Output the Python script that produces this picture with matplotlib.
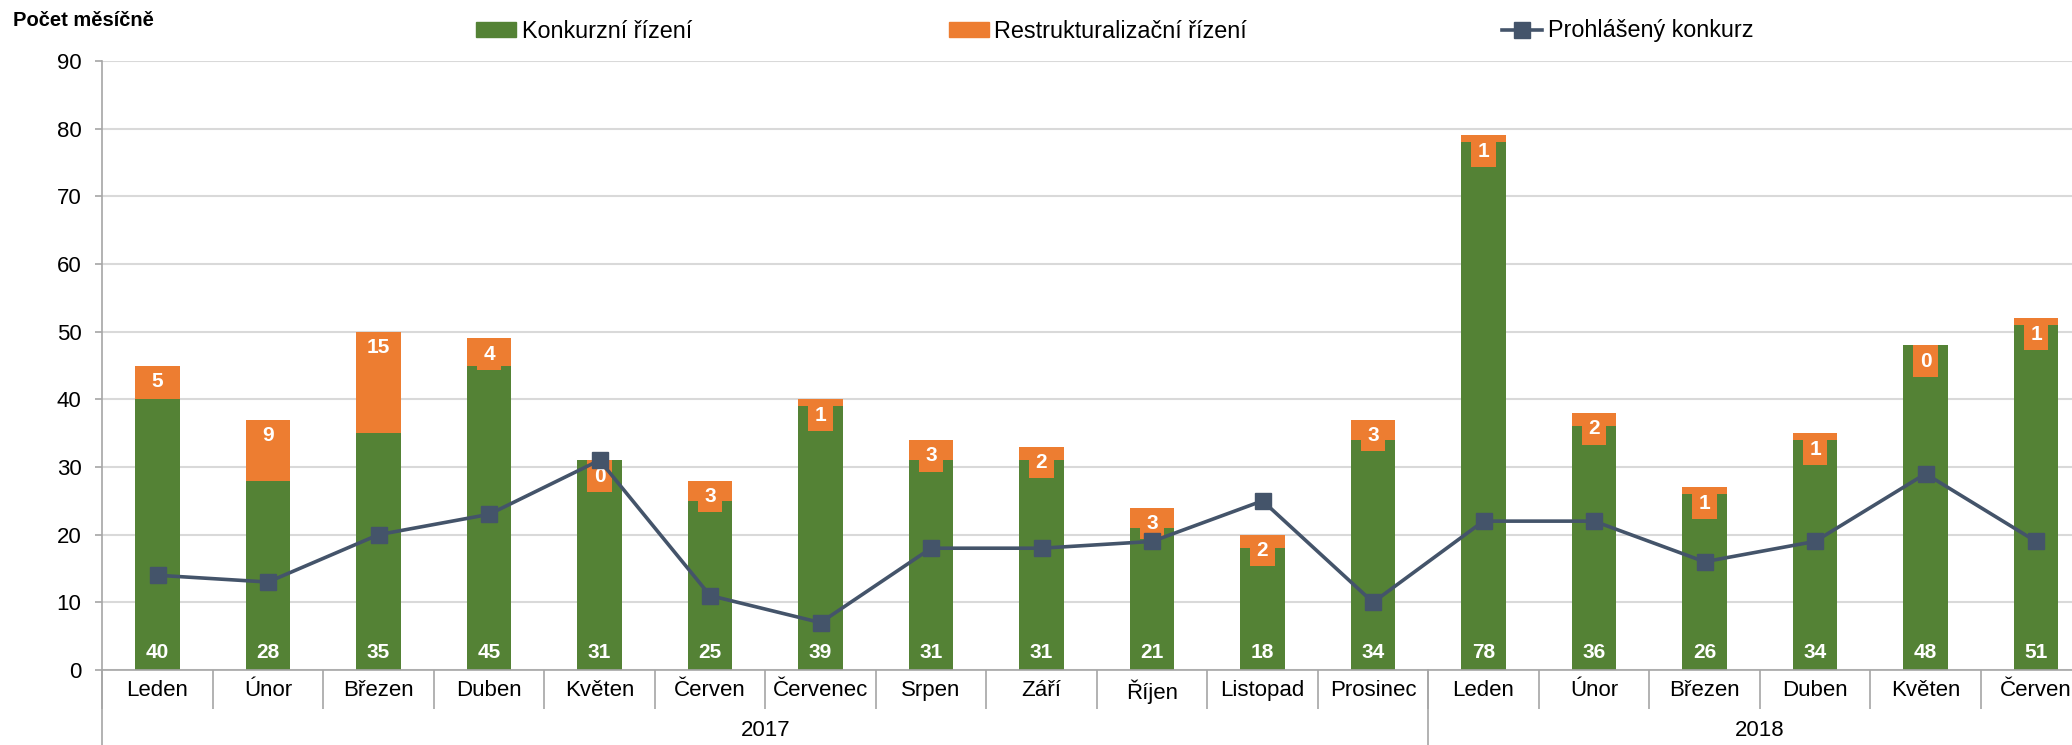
import matplotlib
matplotlib.use('Agg')
import matplotlib.pyplot as plt
from matplotlib.lines import Line2D
from matplotlib.patches import Patch
import matplotlib.transforms as mtransforms
import numpy as np

# data
months = ['Leden', 'Únor', 'Březen', 'Duben', 'Květen', 'Červen', 'Červenec', 'Srpen', 'Září',
          'Říjen', 'Listopad', 'Prosinec', 'Leden', 'Únor', 'Březen', 'Duben', 'Květen', 'Červen']
years = ['2017', '2018']
year_sizes = [12, 6]
konkurz = [40, 28, 35, 45, 31, 25, 39, 31, 31, 21, 18, 34, 78, 36, 26, 34, 48, 51]
restrukt = [5, 9, 15, 4, 0, 3, 1, 3, 2, 3, 2, 3, 1, 2, 1, 1, 0, 1]
prohlaseny = [14, 13, 20, 23, 31, 11, 7, 18, 18, 19, 25, 10, 22, 22, 16, 19, 29, 19]

GREEN = '#548235'
ORANGE = '#ED7D31'
NAVY = '#44546A'
GRID = '#D9D9D9'
AXIS = '#A6A6A6'

plt.rcParams['font.family'] = ['Liberation Sans', 'DejaVu Sans']

W, H = 2072, 745
fig = plt.figure(figsize=(W / 100, H / 100), dpi=100)
ax = fig.add_axes([102.3 / W, 75 / H, 1989 / W, 609 / H])

x = np.arange(len(months))
ax.bar(x, konkurz, width=0.4, color=GREEN, zorder=2)
ax.bar(x, restrukt, width=0.4, bottom=konkurz, color=ORANGE, zorder=2)
ax.plot(x, prohlaseny, color=NAVY, lw=2.6, marker='s', ms=11, zorder=4)

# labels of the green part, near the bottom
for xi, v in zip(x, konkurz):
    ax.annotate(str(v), (xi, 0), xytext=(0, 8.5), textcoords='offset points',
                ha='center', va='baseline', color='white', fontsize=15,
                fontweight='bold', zorder=5)

# labels of the orange part, boxed at the top of the bar
for xi, k, r in zip(x, konkurz, restrukt):
    ax.annotate(str(r), (xi, k + r), xytext=(0, -4.6), textcoords='offset points',
                ha='center', va='top', color='white', fontsize=15, fontweight='bold',
                bbox=dict(boxstyle='square,pad=0.3', fc=ORANGE, ec='none'), zorder=3)

ax.set_xlim(-0.5, len(months) - 0.5)
ax.set_ylim(0, 90)
ax.set_yticks(range(0, 91, 10))
ax.yaxis.grid(True, color=GRID, lw=1.5, zorder=0)
ax.set_axisbelow(True)

ax.set_xticks(x)
ax.set_xticklabels(months)
ax.set_xticks(np.arange(-0.5, len(months), 1), minor=True)
ax.tick_params(axis='x', which='major', length=0, pad=7, labelsize=16)
ax.tick_params(axis='x', which='minor', length=28, width=1.2, color=AXIS, direction='out')
ax.tick_params(axis='y', length=5, width=1.2, color=AXIS, pad=10, labelsize=16)

for s in ['top', 'right']:
    ax.spines[s].set_visible(False)
for s in ['left', 'bottom']:
    ax.spines[s].set_color(AXIS)
    ax.spines[s].set_linewidth(1.2)

# year groups
trans = mtransforms.blended_transform_factory(ax.transData, ax.transAxes)
start = -0.5
ax.plot([start, start], [0, -0.125], transform=trans, color=AXIS, lw=1.2, clip_on=False)
for yr, n in zip(years, year_sizes):
    end = start + n
    ax.text((start + end) / 2, -0.1, yr, transform=trans, ha='center', va='center', fontsize=16)
    ax.plot([end, end], [0, -0.125], transform=trans, color=AXIS, lw=1.2, clip_on=False)
    start = end

fig.text(13 / W, 1 - 21 / H, 'Počet měsíčně', fontsize=14.5, fontweight='bold', va='center')

# legend, one entry each
entries = [
    (Patch(color=GREEN), 'Konkurzní řízení', 476),
    (Patch(color=ORANGE), 'Restrukturalizační řízení', 949),
    (Line2D([], [], color=NAVY, lw=2.6, marker='s', ms=11), 'Prohlášený konkurz', 1502),
]
for h, lab, px in entries:
    fig.legend([h], [lab], loc='center left', bbox_to_anchor=(px / W, 1 - 31 / H),
               frameon=False, fontsize=16.8, borderpad=0, borderaxespad=0,
               handlelength=1.7, handleheight=0.6, handletextpad=0.25)

fig.savefig('out.png', dpi=100)
